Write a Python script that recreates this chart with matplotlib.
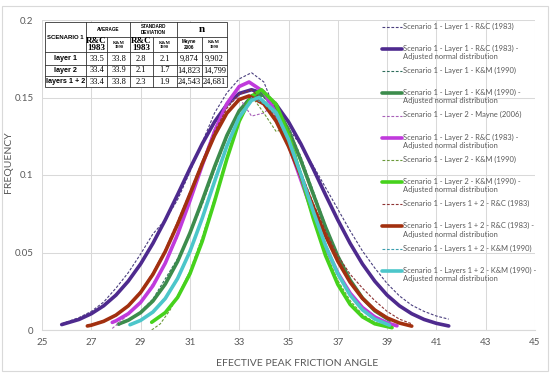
import matplotlib
matplotlib.use('Agg')
import matplotlib.pyplot as plt
from matplotlib.patches import Rectangle

plt.rcParams['font.family'] = ['Lato', 'DejaVu Sans']

# ---- data ----
# adjusted normal distributions (thick lines)
x_l1_rc = [25.8, 26.5, 27, 27.5, 28, 28.5, 29, 29.5, 30, 30.5, 31, 31.5, 32, 32.5, 33, 33.5,
           34, 34.5, 35, 35.5, 36, 36.5, 37, 37.5, 38, 38.5, 39, 39.5, 40, 40.5, 41, 41.5]
y_l1_rc = [0.0035, 0.0068, 0.0105, 0.0156, 0.0225, 0.0315, 0.0426, 0.0559, 0.0710, 0.0873,
           0.1041, 0.1201, 0.1343, 0.1454, 0.1526, 0.155, 0.1526, 0.1454, 0.1343, 0.1201,
           0.1041, 0.0873, 0.0710, 0.0559, 0.0426, 0.0315, 0.0225, 0.0156, 0.0105, 0.0068,
           0.0043, 0.0026]

x_l1_km = [28.1, 28.5, 29, 29.5, 30, 30.5, 31, 31.5, 32, 32.5, 33, 33.5, 33.8, 34, 34.5, 35,
           35.5, 36, 36.5, 37, 37.5, 38, 38.5, 39.1]
y_l1_km = [0.0038, 0.0063, 0.0112, 0.0187, 0.0296, 0.0442, 0.0625, 0.0834, 0.1053, 0.1255,
           0.1414, 0.1504, 0.152, 0.1513, 0.1438, 0.1291, 0.1095, 0.0878, 0.0665, 0.0476,
           0.0322, 0.0206, 0.0124, 0.0063]

x_l2_rc = [27.85, 28, 28.5, 29, 29.5, 30, 30.5, 31, 31.5, 32, 32.5, 33, 33.4, 34, 34.5, 35,
           35.5, 36, 36.5, 37, 37.5, 38, 38.5, 39, 39.4]
y_l2_rc = [0.0049, 0.0059, 0.0105, 0.0178, 0.0285, 0.0431, 0.0617, 0.0833, 0.1063, 0.1281,
           0.1460, 0.1571, 0.160, 0.1536, 0.1395, 0.1197, 0.0970, 0.0744, 0.0538, 0.0368,
           0.0238, 0.0145, 0.0084, 0.0046, 0.0027]

x_l2_km = [29.45, 30, 30.5, 31, 31.5, 32, 32.5, 33, 33.5, 33.9, 34.5, 35, 35.5, 36, 36.5, 37,
           37.5, 38, 38.5, 39.2]
y_l2_km = [0.0050, 0.0112, 0.0210, 0.0362, 0.0572, 0.0830, 0.1104, 0.1347, 0.1508, 0.155,
           0.1456, 0.1257, 0.0995, 0.0723, 0.0481, 0.0294, 0.0165, 0.0085, 0.0040, 0.0015]

x_l12_rc = [26.84, 27, 27.5, 28, 28.5, 29, 29.5, 30, 30.5, 31, 31.5, 32, 32.5, 33, 33.4, 34,
            34.5, 35, 35.5, 36, 36.5, 37, 37.5, 38, 38.5, 39, 39.5, 40]
y_l12_rc = [0.0026, 0.0031, 0.0056, 0.0096, 0.0156, 0.0242, 0.0359, 0.0506, 0.0682, 0.0876,
            0.1073, 0.1255, 0.1399, 0.1487, 0.151, 0.1459, 0.1347, 0.1185, 0.0995, 0.0797,
            0.0609, 0.0444, 0.0308, 0.0204, 0.0129, 0.0078, 0.0045, 0.0025]

x_l12_km = [28.57, 29, 29.5, 30, 30.5, 31, 31.5, 32, 32.5, 33, 33.5, 33.8, 34.5, 35, 35.5, 36,
            36.5, 37, 37.5, 38, 38.5, 39.1]
y_l12_km = [0.0034, 0.0062, 0.0116, 0.0203, 0.0332, 0.0506, 0.0721, 0.0958, 0.1187, 0.1373,
            0.1481, 0.150, 0.1402, 0.1229, 0.1005, 0.0767, 0.0546, 0.0363, 0.0225, 0.0130,
            0.0070, 0.0031]

# measured frequencies (thin dashed lines)
xd_l1_rc = [25.8, 26.5, 27, 27.5, 28, 28.5, 29, 29.5, 30, 30.5, 31, 31.5, 32, 32.5, 33, 33.5,
            34, 34.5, 35, 35.5, 36, 36.5, 37, 37.5, 38, 38.5, 39, 39.5, 40, 40.5, 41, 41.5]
yd_l1_rc = [0.004, 0.008, 0.012, 0.018, 0.027, 0.037, 0.049, 0.062, 0.071, 0.084, 0.102, 0.121,
            0.140, 0.153, 0.162, 0.166, 0.160, 0.140, 0.130, 0.119, 0.106, 0.092, 0.078, 0.064,
            0.051, 0.040, 0.030, 0.022, 0.016, 0.012, 0.009, 0.007]

xd_l1_km = [28.1, 28.5, 29, 29.5, 30, 30.5, 31, 31.5, 32, 32.5, 33, 33.5, 34, 34.5, 35, 35.5,
            36, 36.5, 37, 37.5, 38, 38.5, 39.1]
yd_l1_km = [0.003, 0.006, 0.012, 0.020, 0.033, 0.046, 0.062, 0.081, 0.103, 0.124, 0.142, 0.152,
            0.150, 0.141, 0.130, 0.112, 0.090, 0.068, 0.047, 0.031, 0.020, 0.012, 0.006]

xd_l2_my = [27.85, 28, 28.5, 29, 29.5, 30, 30.5, 31, 31.5, 32, 32.5, 33, 33.5, 34, 34.5, 35,
            35.5, 36, 36.5, 37, 37.5, 38, 38.5, 39, 39.4]
yd_l2_my = [0.001, 0.003, 0.010, 0.018, 0.030, 0.043, 0.060, 0.084, 0.108, 0.130, 0.146, 0.150,
            0.138, 0.140, 0.147, 0.121, 0.096, 0.072, 0.052, 0.036, 0.024, 0.015, 0.009, 0.005,
            0.003]

xd_l2_km = [29.45, 29.8, 30.2, 30.5, 31, 31.5, 32, 32.5, 33, 33.5, 34, 34.5, 35, 35.5, 36, 36.5,
            37, 37.5, 38, 38.5, 39.2]
yd_l2_km = [0.000, 0.004, 0.013, 0.022, 0.038, 0.060, 0.085, 0.112, 0.136, 0.151, 0.140, 0.128,
            0.131, 0.101, 0.074, 0.050, 0.032, 0.019, 0.010, 0.005, 0.002]

xd_l12_rc = [26.84, 27.5, 28, 28.5, 29, 29.5, 30, 30.5, 31, 31.5, 32, 32.5, 33, 33.5, 34, 34.5,
             35, 35.5, 36, 36.5, 37, 37.5, 38, 38.5, 39, 39.5, 40]
yd_l12_rc = [0.003, 0.006, 0.010, 0.016, 0.025, 0.037, 0.052, 0.070, 0.089, 0.109, 0.128, 0.143,
             0.152, 0.155, 0.147, 0.137, 0.122, 0.102, 0.082, 0.064, 0.048, 0.036, 0.027, 0.019,
             0.012, 0.007, 0.004]

xd_l12_km = [28.57, 29, 29.5, 30, 30.5, 31, 31.5, 32, 32.5, 33, 33.5, 34, 34.5, 35, 35.5, 36,
             36.5, 37, 37.5, 38, 38.5, 39.1]
yd_l12_km = [0.003, 0.006, 0.012, 0.021, 0.034, 0.051, 0.072, 0.096, 0.119, 0.138, 0.150, 0.146,
             0.138, 0.124, 0.102, 0.078, 0.056, 0.037, 0.023, 0.013, 0.007, 0.003]

labels = [
    'Scenario 1 - Layer 1 - R&C (1983)',
    'Scenario 1 - Layer 1 - R&C (1983) -\nAdjusted normal distribution',
    'Scenario 1 - Layer 1 - K&M (1990)',
    'Scenario 1 - Layer 1 - K&M (1990) -\nAdjusted normal distribution',
    'Scenario 1 - Layer 2 - Mayne (2006)',
    'Scenario 1 - Layer 2 - R&C (1983) -\nAdjusted normal distribution',
    'Scenario 1 - Layer 2 - K&M (1990)',
    'Scenario 1 - Layer 2 - K&M (1990) -\nAdjusted normal distribution',
    'Scenario 1 - Layers 1 + 2 - R&C (1983)',
    'Scenario 1 - Layers 1 + 2 - R&C (1983) -\nAdjusted normal distribution',
    'Scenario 1 - Layers 1 + 2 - K&M (1990)',
    'Scenario 1 - Layers 1 + 2 - K&M (1990) -\nAdjusted normal distribution',
]

# table values
table_rows = ['layer 1', 'layer 2', 'layers 1 + 2']
avg_rc = ['33.5', '33.4', '33.4']
avg_km = ['33.8', '33.9', '33.8']
sd_rc = ['2.8', '2.1', '2.3']
sd_km = ['2.1', '1.7', '1.9']
n_mayne = ['9,874', '14,823', '24,543']
n_km = ['9,902', '14,799', '24,681']

series = [
    (xd_l1_rc, yd_l1_rc, '#4A3F7E', 'dash'),
    (x_l1_rc, y_l1_rc, '#4E2A8E', 'solid'),
    (xd_l1_km, yd_l1_km, '#2F6E5C', 'dash'),
    (x_l1_km, y_l1_km, '#3C8C4C', 'solid'),
    (xd_l2_my, yd_l2_my, '#A860B8', 'dash'),
    (x_l2_rc, y_l2_rc, '#C03ADC', 'solid'),
    (xd_l2_km, yd_l2_km, '#6B9A3A', 'dash'),
    (x_l2_km, y_l2_km, '#46D21C', 'solid'),
    (xd_l12_rc, yd_l12_rc, '#8E3434', 'dash'),
    (x_l12_rc, y_l12_rc, '#A2300F', 'solid'),
    (xd_l12_km, yd_l12_km, '#3A9EAE', 'dash'),
    (x_l12_km, y_l12_km, '#4CC6CA', 'solid'),
]

fig = plt.figure(figsize=(5.5, 3.8), dpi=100)
ax = fig.add_axes([42 / 550, 50 / 380, 493 / 550, 310 / 380])

def style(kind):
    if kind == 'dash':
        return dict(lw=0.8, linestyle=(0, (2.5, 1.5)))
    return dict(lw=2.6, solid_capstyle='round')

for xs, ys, c, kind in series:
    ax.plot(xs, ys, color=c, **style(kind))

ax.set_xlim(25, 45)
ax.set_ylim(0, 0.2)
ax.set_xticks(range(25, 46, 2))
ax.set_yticks([0, 0.05, 0.1, 0.15, 0.2])
ax.set_yticklabels(['0', '0.05', '0.1', '0.15', '0.2'])
ax.grid(True, color='#D9D9D9', lw=0.75)
ax.set_axisbelow(True)
for s in ['top', 'right', 'left']:
    ax.spines[s].set_visible(False)
ax.spines['bottom'].set_color('#D9D9D9')
ax.tick_params(length=0, labelsize=7, colors='#595959', pad=6)
ax.set_xlabel('EFECTIVE PEAK FRICTION ANGLE', fontsize=7.5, color='#595959')
ax.set_ylabel('FREQUENCY', fontsize=7.5, color='#595959')
ax.xaxis.set_label_coords(0.517, -0.095)
ax.yaxis.set_label_coords(-0.058, 0.54)

# overlay in pixel coordinates for the table, legend and chart border
ov = fig.add_axes([0, 0, 1, 1], zorder=5)
ov.set_xlim(0, 550)
ov.set_ylim(380, 0)
ov.axis('off')
ov.add_patch(Rectangle((2, 6), 546, 365, fill=False, ec='#D9D9D9', lw=0.8))

# table
cx = [45, 86, 107.3, 130, 152.7, 176.5, 201.5, 227]
ry = [22, 37, 52.3, 65, 76, 87.3]
tc = '#333333'
ov.add_patch(Rectangle((cx[0], ry[0]), cx[-1] - cx[0], ry[-1] - ry[0], fc='white', ec=tc, lw=0.6))
for y in [ry[2], ry[3], ry[4]]:
    ov.plot([cx[0], cx[-1]], [y, y], color=tc, lw=0.6)
ov.plot([cx[1], cx[-1]], [ry[1], ry[1]], color=tc, lw=0.6)
for x in [cx[1], cx[3], cx[5]]:
    ov.plot([x, x], [ry[0], ry[-1]], color=tc, lw=0.6)
for x in [cx[2], cx[4], cx[6]]:
    ov.plot([x, x], [ry[1], ry[-1]], color=tc, lw=0.6)

def mid(a, b):
    return (a + b) / 2

ov.text(mid(cx[0], cx[1]), mid(ry[0], ry[2]), 'SCENARIO 1', fontsize=4.3, weight='bold',
        ha='center', va='center', family='Liberation Sans')
ov.text(mid(cx[1], cx[3]), mid(ry[0], ry[1]), 'AVERAGE', fontsize=3.3, weight='bold',
        ha='center', va='center', family='Liberation Sans')
ov.text(mid(cx[3], cx[5]), mid(ry[0], ry[1]), 'STANDARD\nDEVIATION', fontsize=3.3, weight='bold',
        ha='center', va='center', family='Liberation Sans', linespacing=1.3)
ov.text(mid(cx[5], cx[7]), mid(ry[0], ry[1]), 'n', fontsize=8, weight='bold',
        ha='center', va='center', family='Liberation Serif')
sub = [('R&C\n1983', 6.5), ('K&M\n1990', 3.3), ('R&C\n1983', 6.5), ('K&M\n1990', 3.3)]
for i, (t, fs) in enumerate(sub):
    ov.text(mid(cx[i + 1], cx[i + 2]), mid(ry[1], ry[2]), t, fontsize=fs, weight='bold',
            ha='center', va='center', family='Liberation Serif', linespacing=0.95)
ov.text(mid(cx[5], cx[6]), mid(ry[1], ry[2]), 'Mayne\n2006', fontsize=3.3, weight='bold',
        ha='center', va='center', family='Liberation Sans')
ov.text(mid(cx[6], cx[7]), mid(ry[1], ry[2]), 'K&M\n1990', fontsize=3.3, weight='bold',
        ha='center', va='center', family='Liberation Serif')
cols = [avg_rc, avg_km, sd_rc, sd_km, n_mayne, n_km]
for r, name in enumerate(table_rows):
    yc = mid(ry[r + 2], ry[r + 3])
    ov.text(mid(cx[0], cx[1]), yc, name, fontsize=5.2, weight='bold', ha='center', va='center',
            family='Liberation Sans')
    for j, col in enumerate(cols):
        ov.text(mid(cx[j + 1], cx[j + 2]), yc, col[r], fontsize=6, ha='center', va='center',
                family='Liberation Serif')

# legend drawn by hand so every entry gets the same height, as in the reference
for i, (xs, ys, c, kind) in enumerate(series):
    y = 26.7 + 22.2 * i
    ov.plot([382, 402], [y, y], color=c, **style(kind))
    ov.text(403, y - 4.2, labels[i], fontsize=5.4, color='#595959', ha='left', va='top',
            linespacing=1.2)

fig.savefig('out.png', dpi=100)
